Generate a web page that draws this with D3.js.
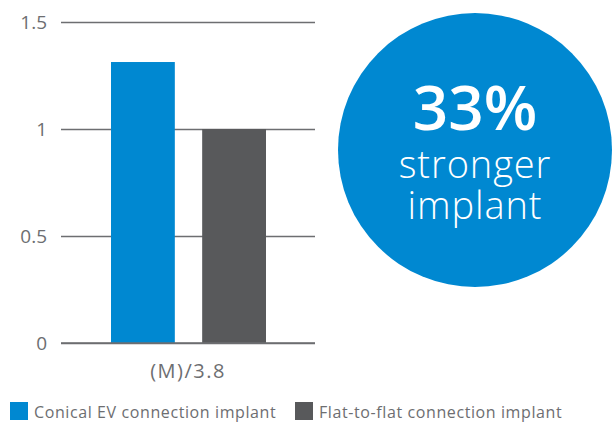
<!DOCTYPE html>
<meta charset="utf-8">
<script src="https://d3js.org/d3.v7.min.js"></script>
<style>
  body { margin: 0; background: #fff; }
  text { font-family: "Open Sans", sans-serif; }
</style>
<div id="my_dataviz"></div>
<script>

// data
var groups = ["(M)/3.8"];
var seriesNames = ["Conical EV connection implant", "Flat-to-flat connection implant"];
var seriesValues = [1.313, 1.0];
var seriesColors = ["#0088d1", "#58595b"];
var yTicks = [0, 0.5, 1, 1.5];
var calloutLines = ["33%", "stronger", "implant"];

var grey = "#6d6e71";

var svg = d3.select("#my_dataviz")
    .append("svg")
    .attr("width", 614)
    .attr("height", 425);

// scales
var y = d3.scaleLinear()
    .domain([0, 1.5])
    .range([343, 22]);

var x = d3.scaleBand()
    .domain(groups)
    .range([61, 315]);

var xSub = d3.scaleBand()
    .domain(seriesNames)
    .range([111 - 61, 266 - 61])
    .paddingInner(0.3);

// gridlines + tick labels
var yAxis = svg.append("g")
    .attr("transform", "translate(61,0)")
    .call(d3.axisLeft(y).tickValues(yTicks).tickSize(-254)
      .tickFormat(function(d) { return d3.format("")(d); }));
yAxis.select(".domain").remove();
yAxis.selectAll(".tick line")
    .attr("stroke", grey)
    .attr("stroke-width", 1.5);
yAxis.selectAll(".tick text")
    .attr("x", -14)
    .attr("fill", grey)
    .style("font-size", "19px")
    .style("font-family", "'Open Sans', sans-serif");

// bars
svg.append("g")
  .selectAll("rect")
  .data(seriesNames)
  .join("rect")
    .attr("x", function(d) { return x(groups[0]) + xSub(d); })
    .attr("y", function(d, i) { return y(seriesValues[i]); })
    .attr("width", xSub.bandwidth())
    .attr("height", function(d, i) { return y(0) - y(seriesValues[i]); })
    .attr("fill", function(d, i) { return seriesColors[i]; });

// redraw baseline on top
svg.append("line")
    .attr("x1", 61).attr("x2", 315)
    .attr("y1", y(0)).attr("y2", y(0))
    .attr("stroke", grey)
    .attr("stroke-width", 1.5);

// x label
svg.append("text")
    .attr("x", x(groups[0]) + x.bandwidth() / 2)
    .attr("y", 378)
    .attr("text-anchor", "middle")
    .attr("fill", grey)
    .style("font-size", "20px")
    .style("letter-spacing", "1.5px")
    .text(groups[0]);

// legend
var legendX = [10, 295];
var legend = svg.append("g")
  .selectAll("g")
  .data(seriesNames)
  .join("g")
    .attr("transform", function(d, i) { return "translate(" + legendX[i] + ",402)"; });
legend.append("rect")
    .attr("width", 18).attr("height", 18)
    .attr("fill", function(d, i) { return seriesColors[i]; });
legend.append("text")
    .attr("x", 24)
    .attr("y", 16)
    .attr("fill", grey)
    .style("font-size", "16px")
    .style("letter-spacing", "0.6px")
    .text(function(d) { return d; });

// callout circle
svg.append("circle")
    .attr("cx", 475).attr("cy", 150).attr("r", 137)
    .attr("fill", "#0088d1");
var callY = [130, 178, 219];
var callSize = [62, 38, 38];
var callWeight = [600, 300, 300];
var callSpacing = [0, 0.9, 0.9];
svg.append("g")
  .selectAll("text")
  .data(calloutLines)
  .join("text")
    .attr("x", 475)
    .attr("y", function(d, i) { return callY[i]; })
    .attr("text-anchor", "middle")
    .attr("fill", "#fff")
    .style("font-size", function(d, i) { return callSize[i] + "px"; })
    .style("font-weight", function(d, i) { return callWeight[i]; })
    .style("letter-spacing", function(d, i) { return callSpacing[i] + "px"; })
    .text(function(d) { return d; });

</script>
